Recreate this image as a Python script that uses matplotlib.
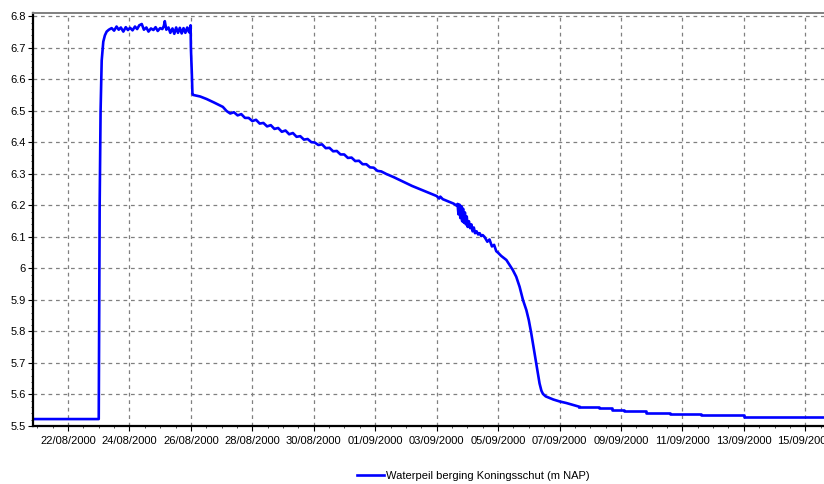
import pandas as pd
import matplotlib
matplotlib.use("Agg")
import matplotlib.pyplot as plt
import matplotlib.dates as mdates
from matplotlib.ticker import MultipleLocator, FormatStrFormatter

plt.rcParams["font.family"] = ["Liberation Sans", "DejaVu Sans"]

# Day 0 = 22/08/2000, levels in m NAP
day0 = pd.Timestamp("2000-08-22")

days_low = [-1.14, 1.0]
level_low = [5.522, 5.522]

days_rise = [1.03, 1.06, 1.096, 1.148, 1.2, 1.258, 1.33]
level_rise = [6.2, 6.5, 6.66, 6.72, 6.74, 6.752, 6.758]

days_plateau = [1.42, 1.5, 1.58, 1.65, 1.72, 1.8, 1.88, 1.95, 2.02, 2.1,
                2.18, 2.25, 2.32, 2.4, 2.47, 2.55, 2.62, 2.7, 2.78, 2.85,
                2.92, 3.0, 3.07, 3.12, 3.15, 3.2, 3.27, 3.33, 3.4, 3.46,
                3.52, 3.58, 3.64, 3.7, 3.76, 3.82, 3.88, 3.94, 3.99]
level_plateau = [6.763, 6.755, 6.768, 6.758, 6.765, 6.752, 6.766, 6.757, 6.764, 6.756,
                 6.768, 6.760, 6.772, 6.776, 6.758, 6.765, 6.752, 6.762, 6.757, 6.766,
                 6.754, 6.763, 6.760, 6.770, 6.785, 6.758, 6.765, 6.748, 6.762, 6.745,
                 6.765, 6.748, 6.764, 6.746, 6.763, 6.748, 6.765, 6.750, 6.772]

days_drop = [4.0, 4.03, 4.05]
level_drop = [6.70, 6.62, 6.555]

days_decline = [4.07, 4.3, 4.51, 4.75, 5.04, 5.16, 5.28, 5.40, 5.52, 5.64,
                5.76, 5.88, 6.00, 6.12, 6.24, 6.36, 6.48, 6.60, 6.72, 6.84,
                6.96, 7.08, 7.20, 7.32, 7.44, 7.56, 7.68, 7.80, 7.92, 8.03,
                8.15, 8.27, 8.39, 8.51, 8.63, 8.75, 8.87, 8.99, 9.11, 9.23,
                9.35, 9.47, 9.59, 9.71, 9.83, 9.95, 10.07, 10.2, 10.36, 10.6,
                10.9, 11.2, 11.5, 11.8, 12.0, 12.08, 12.12, 12.2, 12.4, 12.55]
level_decline = [6.551, 6.546, 6.538, 6.527, 6.513, 6.500, 6.492, 6.496, 6.486, 6.490,
                 6.478, 6.478, 6.468, 6.472, 6.460, 6.462, 6.451, 6.455, 6.443, 6.446,
                 6.434, 6.438, 6.426, 6.430, 6.418, 6.420, 6.409, 6.411, 6.401, 6.400,
                 6.392, 6.394, 6.382, 6.383, 6.372, 6.373, 6.362, 6.362, 6.351, 6.352,
                 6.341, 6.342, 6.331, 6.331, 6.321, 6.320, 6.310, 6.308, 6.300, 6.290,
                 6.276, 6.262, 6.250, 6.238, 6.230, 6.222, 6.228, 6.220, 6.212, 6.206]

days_noisy = [12.64, 12.68, 12.71, 12.74, 12.77, 12.80, 12.83, 12.86, 12.89, 12.92,
              12.95, 12.98, 13.01, 13.05, 13.09, 13.13, 13.17, 13.21, 13.25, 13.30,
              13.35, 13.40, 13.45, 13.50, 13.56, 13.65, 13.72, 13.8, 13.87, 13.94, 14.0]
level_noisy = [6.200, 6.205, 6.172, 6.203, 6.160, 6.198, 6.150, 6.190, 6.145, 6.178,
               6.140, 6.165, 6.132, 6.150, 6.128, 6.140, 6.118, 6.130, 6.112, 6.118,
               6.108, 6.112, 6.103, 6.106, 6.100, 6.085, 6.092, 6.070, 6.075, 6.055, 6.050]

days_fall = [14.1, 14.27, 14.48, 14.59, 14.7, 14.81, 14.92, 15.0, 15.08, 15.16,
             15.24, 15.30, 15.35, 15.41, 15.46, 15.55, 15.8, 16.0, 16.22, 16.65]
level_fall = [6.040, 6.027, 5.995, 5.974, 5.942, 5.900, 5.868, 5.836, 5.794, 5.747,
              5.699, 5.664, 5.635, 5.612, 5.602, 5.594, 5.584, 5.578, 5.573, 5.561]

# slow tail is logged in small steps
days_tail = [16.65, 17.3, 17.7, 18.1, 18.8, 19.6, 20.6, 22.0, 25.0]
level_tail = [5.561, 5.556, 5.550, 5.547, 5.542, 5.538, 5.534, 5.529, 5.529]

series_label = "Waterpeil berging Koningsschut (m NAP)"


def to_time(days):
    return day0 + pd.to_timedelta(days, unit="D")


days_main = days_low + days_rise + days_plateau + days_drop + days_decline + days_noisy + days_fall
level_main = level_low + level_rise + level_plateau + level_drop + level_decline + level_noisy + level_fall

W, H = 824, 484
fig = plt.figure(figsize=(W / 100, H / 100), dpi=100)
ax = fig.add_axes([33 / W, 58 / H, (836 - 33) / W, (426 - 13) / H])

line, = ax.plot(to_time(days_main), level_main, color="#0000ff", lw=1.9, label=series_label)
ax.plot(to_time(days_tail), level_tail, color="#0000ff", lw=1.9, drawstyle="steps-post")

ax.set_xlim(to_time([-1.14])[0], to_time([25.0])[0])
ax.set_ylim(5.5, 6.811)

ax.xaxis.set_major_locator(mdates.DayLocator(bymonthday=[22, 24, 26, 28, 30, 1, 3, 5, 7, 9, 11, 13, 15]))
ax.xaxis.set_minor_locator(mdates.HourLocator(byhour=[0, 12]))
ax.xaxis.set_major_formatter(mdates.DateFormatter("%d/%m/%Y"))
ax.yaxis.set_major_locator(MultipleLocator(0.1))
ax.yaxis.set_minor_locator(MultipleLocator(0.02))
ax.yaxis.set_major_formatter(FormatStrFormatter("%g"))

ax.grid(True, which="major", color="#808080", linestyle=(0, (3, 3)), linewidth=0.9)
ax.tick_params(axis="both", which="major", labelsize=8, length=3.5, width=0.8, colors="black")
ax.tick_params(axis="x", which="major", pad=4)
ax.tick_params(axis="y", which="major", pad=1.5)
ax.tick_params(axis="both", which="minor", length=1.5, width=0.5)

ax.spines["left"].set_linewidth(1.6)
ax.spines["left"].set_color("black")
ax.spines["bottom"].set_linewidth(1.6)
ax.spines["bottom"].set_color("black")
ax.spines["top"].set_linewidth(1.4)
ax.spines["top"].set_color("#808080")
ax.spines["right"].set_visible(False)

fig.legend(handles=[line], loc="center left", bbox_to_anchor=(357 / W, 8 / H),
           frameon=False, fontsize=8, handlelength=2.4, handletextpad=0.2,
           borderpad=0, borderaxespad=0)

fig.savefig("out.png", dpi=100)
